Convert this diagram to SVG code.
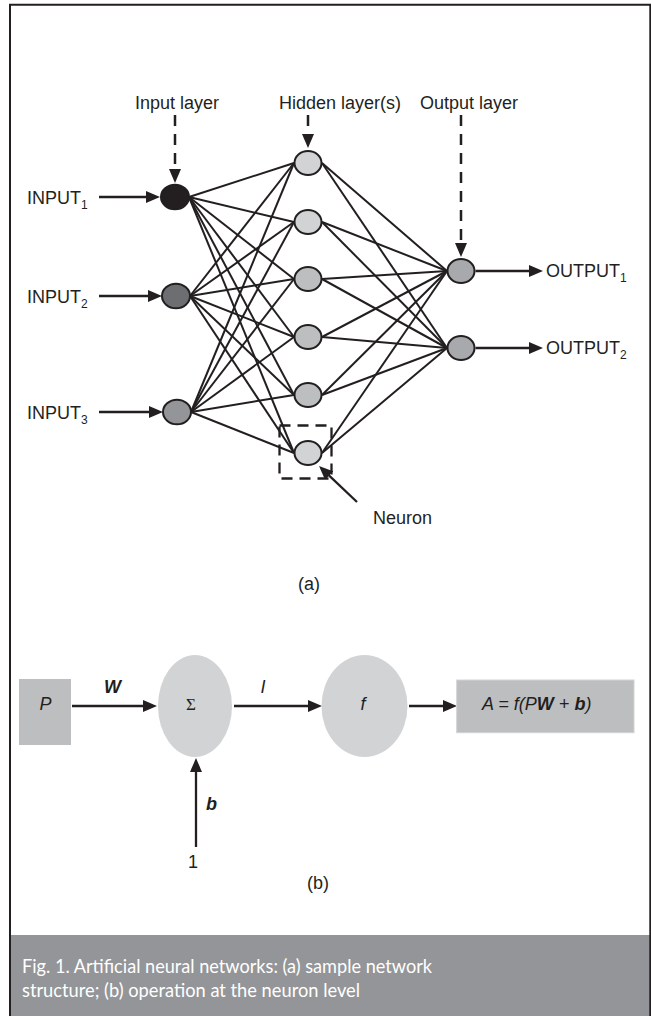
<svg xmlns="http://www.w3.org/2000/svg" width="651" height="1016" viewBox="0 0 651 1016">
<style>
.t{font-family:"Liberation Sans",Arial,sans-serif;font-size:18px;fill:#231f20}
.sub{font-size:12px}
.e{stroke:#231f20;stroke-width:2;fill:none}
.a{stroke:#231f20;stroke-width:2.3;fill:none;marker-end:url(#ah)}
.d{stroke:#231f20;stroke-width:2.5;fill:none;stroke-dasharray:11 8;marker-end:url(#ah)}
.n{stroke:#231f20;stroke-width:2}
.cap{font-family:Lato,"Open Sans",sans-serif;font-size:19px;fill:#ffffff}
</style>
<defs>
<marker id="ah" markerUnits="userSpaceOnUse" markerWidth="14" markerHeight="12" refX="8" refY="6" orient="auto" viewBox="0 0 14 12"><path d="M0,0 L14,6 L0,12 z" fill="#231f20"/></marker>
</defs>
<rect x="0" y="0" width="651" height="1016" fill="#ffffff"/>
<rect x="10" y="935" width="640" height="81" fill="#939598"/>
<path d="M10,1016 V4.8 H650.3 V1016" fill="none" stroke="#231f20" stroke-width="2"/>

<g id="labels-top">
<text class="t" x="135" y="109">Input layer</text>
<text class="t" x="279" y="109">Hidden layer(s)</text>
<text class="t" x="420" y="109">Output layer</text>
</g>

<g id="connectors">
<line class="d" x1="175" y1="115" x2="175" y2="177"/>
<line class="d" x1="308" y1="115" x2="308" y2="142"/>
<line class="d" x1="461" y1="115" x2="461" y2="251"/>
<line class="a" x1="99" y1="197" x2="154" y2="197"/>
<line class="a" x1="99" y1="296" x2="156" y2="296"/>
<line class="a" x1="99" y1="412" x2="157" y2="412"/>
<line class="a" x1="475.5" y1="271" x2="537" y2="271"/>
<line class="a" x1="475.5" y1="348" x2="537" y2="348"/>
<g class="e">
<line x1="189" y1="197" x2="294" y2="163"/><line x1="189" y1="197" x2="294" y2="222"/><line x1="189" y1="197" x2="294" y2="279"/><line x1="189" y1="197" x2="294" y2="337"/><line x1="189" y1="197" x2="294" y2="395"/><line x1="189" y1="197" x2="294" y2="453"/>
<line x1="190" y1="296" x2="294" y2="163"/><line x1="190" y1="296" x2="294" y2="222"/><line x1="190" y1="296" x2="294" y2="279"/><line x1="190" y1="296" x2="294" y2="337"/><line x1="190" y1="296" x2="294" y2="395"/><line x1="190" y1="296" x2="294" y2="453"/>
<line x1="191" y1="412" x2="294" y2="163"/><line x1="191" y1="412" x2="294" y2="222"/><line x1="191" y1="412" x2="294" y2="279"/><line x1="191" y1="412" x2="294" y2="337"/><line x1="191" y1="412" x2="294" y2="395"/><line x1="191" y1="412" x2="294" y2="453"/>
<line x1="322" y1="163" x2="447" y2="271"/><line x1="322" y1="163" x2="447" y2="348"/>
<line x1="322" y1="222" x2="447" y2="271"/><line x1="322" y1="222" x2="447" y2="348"/>
<line x1="322" y1="279" x2="447" y2="271"/><line x1="322" y1="279" x2="447" y2="348"/>
<line x1="322" y1="337" x2="447" y2="271"/><line x1="322" y1="337" x2="447" y2="348"/>
<line x1="322" y1="395" x2="447" y2="271"/><line x1="322" y1="395" x2="447" y2="348"/>
<line x1="322" y1="453" x2="447" y2="271"/><line x1="322" y1="453" x2="447" y2="348"/>
</g>
<rect x="279.5" y="425.5" width="52" height="53" fill="none" stroke="#231f20" stroke-width="2.3" stroke-dasharray="11 7"/>
<line class="a" x1="357" y1="502" x2="323.4" y2="470.1"/>
<line class="a" x1="72" y1="706" x2="151" y2="706"/>
<line class="a" x1="234" y1="706" x2="316" y2="706"/>
<line class="a" x1="409" y1="706" x2="451" y2="706"/>
<line class="a" x1="196" y1="847" x2="196" y2="764"/>
</g>

<g id="input1"><ellipse class="n" cx="175" cy="197" rx="14" ry="12.3" fill="#231f20"/><text class="t" x="27" y="204">INPUT<tspan class="sub" dy="4.5">1</tspan></text></g>
<g id="input2"><ellipse class="n" cx="176" cy="296" rx="14" ry="12.3" fill="#6d6e71"/><text class="t" x="27" y="303">INPUT<tspan class="sub" dy="4.5">2</tspan></text></g>
<g id="input3"><ellipse class="n" cx="177" cy="412" rx="14" ry="12.3" fill="#939598"/><text class="t" x="27" y="419">INPUT<tspan class="sub" dy="4.5">3</tspan></text></g>

<g id="hidden1"><ellipse class="n" cx="308" cy="163" rx="13.5" ry="12" fill="#d1d3d4"/></g>
<g id="hidden2"><ellipse class="n" cx="308" cy="222" rx="13.5" ry="12" fill="#d1d3d4"/></g>
<g id="hidden3"><ellipse class="n" cx="308" cy="279" rx="13.5" ry="12" fill="#bcbec0"/></g>
<g id="hidden4"><ellipse class="n" cx="308" cy="337" rx="13.5" ry="12" fill="#bcbec0"/></g>
<g id="hidden5"><ellipse class="n" cx="308" cy="395" rx="13.5" ry="12" fill="#bcbec0"/></g>
<g id="hidden6"><ellipse class="n" cx="308" cy="453" rx="13.5" ry="12" fill="#d1d3d4"/></g>

<g id="output1"><ellipse class="n" cx="461" cy="271" rx="13.5" ry="12" fill="#a7a9ac"/><text class="t" x="546" y="277">OUTPUT<tspan class="sub" dy="4.5">1</tspan></text></g>
<g id="output2"><ellipse class="n" cx="461" cy="348" rx="13.5" ry="12" fill="#a7a9ac"/><text class="t" x="546" y="354">OUTPUT<tspan class="sub" dy="4.5">2</tspan></text></g>

<g id="neuron-label"><text class="t" x="373" y="524">Neuron</text></g>
<g id="label-a"><text class="t" x="309" y="590" text-anchor="middle">(a)</text></g>

<g id="P"><rect x="19" y="679" width="52" height="66" fill="#bcbec0"/><text class="t" x="45.5" y="709.5" text-anchor="middle" font-style="italic">P</text></g>
<g id="W-label"><text class="t" x="112.5" y="693" text-anchor="middle" font-style="italic" font-weight="bold">W</text></g>
<g id="sum"><ellipse cx="195" cy="706" rx="37" ry="51" fill="#d1d3d4"/><text x="191" y="709.5" text-anchor="middle" font-family="Liberation Serif,serif" font-size="17" fill="#231f20">Σ</text></g>
<g id="I-label"><text class="t" x="263" y="693" text-anchor="middle" font-style="italic">I</text></g>
<g id="f"><ellipse cx="364.5" cy="706" rx="43" ry="51" fill="#d1d3d4"/><text class="t" x="363" y="709.5" text-anchor="middle" font-style="italic">f</text></g>
<g id="A"><rect x="456.7" y="680" width="177.3" height="52.7" fill="#bcbec0" stroke="#d1d3d4" stroke-width="1"/><text class="t" x="482" y="709.5" font-style="italic">A = f(P<tspan font-weight="bold">W</tspan> + <tspan font-weight="bold">b</tspan>)</text></g>
<g id="b-label"><text class="t" x="211.5" y="810" text-anchor="middle" font-style="italic" font-weight="bold">b</text></g>
<g id="one"><text class="t" x="193" y="868" text-anchor="middle">1</text></g>
<g id="label-b"><text class="t" x="318" y="889" text-anchor="middle">(b)</text></g>

<g id="caption">
<text class="cap" x="22" y="973" textLength="410" lengthAdjust="spacingAndGlyphs">Fig. 1. Artificial neural networks: (a) sample network</text>
<text class="cap" x="22" y="997" textLength="338" lengthAdjust="spacingAndGlyphs">structure; (b) operation at the neuron level</text>
</g>
</svg>
